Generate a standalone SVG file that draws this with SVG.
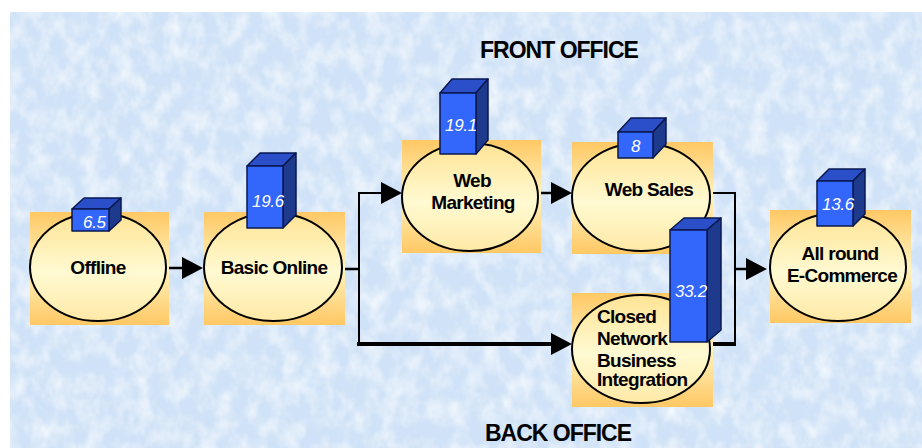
<svg xmlns="http://www.w3.org/2000/svg" width="922" height="448" viewBox="0 0 922 448">
<defs>
<filter id="tex" x="0" y="0" width="100%" height="100%">
<feTurbulence type="fractalNoise" baseFrequency="0.06 0.045" numOctaves="3" seed="7"/>
<feColorMatrix type="matrix" values="0 0 0 0 1  0 0 0 0 1  0 0 0 0 1  1.8 0 0 0 -0.65"/>
</filter>
<linearGradient id="sq" x1="0" y1="0" x2="0" y2="1">
<stop offset="0" stop-color="#FFC864"/>
<stop offset="0.5" stop-color="#FFF3BE"/>
<stop offset="1" stop-color="#FFC864"/>
</linearGradient>
<linearGradient id="el" x1="0" y1="0" x2="0" y2="1">
<stop offset="0" stop-color="#FFE394"/>
<stop offset="0.55" stop-color="#FFFAD2"/>
<stop offset="1" stop-color="#FFE9A6"/>
</linearGradient>
<marker id="ah" markerUnits="userSpaceOnUse" markerWidth="24" markerHeight="24" refX="2" refY="11" orient="auto" viewBox="0 0 24 24">
<path d="M0,0 L21,11 L0,22 z" fill="#000"/>
</marker>
<style>
.sq{fill:url(#sq)}
.el{fill:url(#el);stroke:#000;stroke-width:2}
.lbl{font-family:"Liberation Sans",Arial,sans-serif;font-weight:bold;font-size:19px;fill:#000;letter-spacing:-0.7px}
.hd{font-family:"Liberation Sans",Arial,sans-serif;font-weight:bold;font-size:23px;fill:#000;letter-spacing:-1px;text-anchor:middle}
.num{font-family:"Liberation Sans",Arial,sans-serif;font-style:italic;font-size:17px;fill:#fff;letter-spacing:-0.3px}
.fr{fill:#3366FA;stroke:#0A1850;stroke-width:1.5;stroke-linejoin:round}
.sd{fill:#1E3A8C;stroke:#0A1850;stroke-width:1.5;stroke-linejoin:round}
.tp{fill:#2A4FC8;stroke:#0A1850;stroke-width:1.5;stroke-linejoin:round}
.ln{fill:none;stroke:#000;stroke-width:2.5}
.lt{fill:none;stroke:#000;stroke-width:2}
.lk{fill:none;stroke:#000;stroke-width:4}
</style>
</defs>

<g id="background">
<rect x="0" y="0" width="922" height="448" fill="#fff"/>
<rect x="10" y="12" width="912" height="436" fill="#CFE2F7"/>
<rect x="10" y="12" width="912" height="436" filter="url(#tex)" opacity="0.75"/>
</g>

<g id="headings">
<text class="hd" x="559" y="58">FRONT OFFICE</text>
<text class="hd" x="558" y="441">BACK OFFICE</text>
</g>

<g id="connectors">
<path class="ln" d="M168,268 H184" marker-end="url(#ah)"/>
<path class="ln" d="M343,269 H359"/>
<path class="lt" d="M359,344 V193 H383" marker-end="url(#ah)"/>
<path class="lk" d="M357,344 H553" marker-end="url(#ah)"/>
<path class="ln" d="M540,193 H553" marker-end="url(#ah)"/>
<path class="lt" d="M712,193 H735 V344"/>
<path class="lk" d="M712,344 H736"/>
<path class="ln" d="M735,269 H748" marker-end="url(#ah)"/>
</g>

<g id="offline">
<rect class="sq" x="30" y="212" width="139" height="113"/>
<ellipse class="el" cx="98" cy="267" rx="68" ry="54"/>
<text class="lbl" x="98" y="274" text-anchor="middle">Offline</text>
<g id="bar-offline">
<polygon class="tp" points="72,209 84,198 121,198 109,209"/>
<polygon class="sd" points="109,209 121,198 121,220 109,231"/>
<rect class="fr" x="72" y="209" width="37" height="22"/>
<text class="num" x="83" y="228">6.5</text>
</g>
</g>

<g id="basic-online">
<rect class="sq" x="204" y="212" width="141" height="113"/>
<ellipse class="el" cx="273" cy="267" rx="69" ry="54"/>
<text class="lbl" x="274" y="274" text-anchor="middle">Basic Online</text>
<g id="bar-basic">
<polygon class="tp" points="247,166 260,153 296,153 283,166"/>
<polygon class="sd" points="283,166 296,153 296,215 283,228"/>
<rect class="fr" x="247" y="166" width="36" height="62"/>
<text class="num" x="252" y="207">19.6</text>
</g>
</g>

<g id="web-marketing">
<rect class="sq" x="402" y="140" width="139" height="113"/>
<ellipse class="el" cx="470" cy="197" rx="68" ry="54"/>
<text class="lbl" x="472" y="187" text-anchor="middle">Web</text>
<text class="lbl" x="473" y="209" text-anchor="middle">Marketing</text>
<g id="bar-web-marketing">
<polygon class="tp" points="440,93 452,79 488,79 476,93"/>
<polygon class="sd" points="476,93 488,79 488,140 476,154"/>
<rect class="fr" x="440" y="93" width="36" height="61"/>
<text class="num" x="445" y="131">19.1</text>
</g>
</g>

<g id="web-sales">
<rect class="sq" x="572" y="142" width="141" height="112"/>
<ellipse class="el" cx="641" cy="197" rx="69" ry="54"/>
<text class="lbl" x="649" y="196" text-anchor="middle">Web Sales</text>
<g id="bar-web-sales">
<polygon class="tp" points="618,132 631,118 666,118 653,132"/>
<polygon class="sd" points="653,132 666,118 666,144 653,158"/>
<rect class="fr" x="618" y="132" width="35" height="26"/>
<text class="num" x="631" y="152">8</text>
</g>
</g>

<g id="closed-network">
<rect class="sq" x="572" y="293" width="141" height="114"/>
<ellipse class="el" cx="641" cy="349" rx="69" ry="54"/>
<text class="lbl" x="597" y="323">Closed</text>
<text class="lbl" x="597" y="345">Network</text>
<text class="lbl" x="597" y="367">Business</text>
<text class="lbl" x="597" y="386">Integration</text>
<g id="bar-closed">
<polygon class="tp" points="670,230 684,218 721,218 707,230"/>
<polygon class="sd" points="707,230 721,218 721,330 707,342"/>
<rect class="fr" x="670" y="230" width="37" height="112"/>
<text class="num" x="675" y="297">33.2</text>
</g>
</g>

<g id="all-round">
<rect class="sq" x="770" y="210" width="141" height="113"/>
<ellipse class="el" cx="838" cy="267" rx="68" ry="54"/>
<text class="lbl" x="840" y="260" text-anchor="middle">All round</text>
<text class="lbl" x="842" y="282" text-anchor="middle">E-Commerce</text>
<g id="bar-all-round">
<polygon class="tp" points="817,181 829,169 865,169 853,181"/>
<polygon class="sd" points="853,181 865,169 865,214 853,226"/>
<rect class="fr" x="817" y="181" width="36" height="45"/>
<text class="num" x="822" y="210">13.6</text>
</g>
</g>
</svg>
